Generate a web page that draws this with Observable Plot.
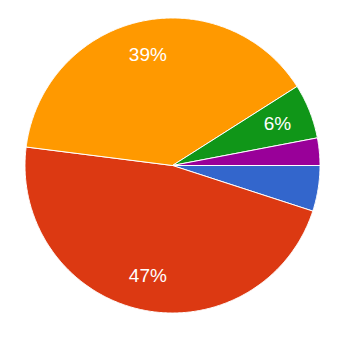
<!DOCTYPE html>
<html><head><meta charset="utf-8">
<script src="https://cdn.jsdelivr.net/npm/d3@7"></script>
<script src="https://cdn.jsdelivr.net/npm/@observablehq/plot@0.6"></script>
<style>body{margin:0;background:#fff}</style>
</head><body><div id="chart"></div>
<script>
const categories = ["Option 1", "Option 2", "Option 3", "Option 4", "Option 5"];
const values = [5, 47, 39, 6, 3];
const colors = ["#3366cc", "#dc3912", "#ff9900", "#109618", "#990099"];
const startAngle = 90; // degrees clockwise from 12 o'clock
const labelThreshold = 0.055;

const total = d3.sum(values);
const slices = [];
let acc = startAngle;
categories.forEach((c, i) => {
  const span = values[i] / total * 360;
  slices.push({cat: c, a0: acc, a1: acc + span, p: values[i] / total});
  acc += span;
});

const rad = a => a * Math.PI / 180;
const pts = [];
for (const s of slices) {
  pts.push({cat: s.cat, x: 0, y: 0});
  for (let a = s.a0; a < s.a1; a += 0.5) pts.push({cat: s.cat, x: Math.sin(rad(a)), y: -Math.cos(rad(a))});
  pts.push({cat: s.cat, x: Math.sin(rad(s.a1)), y: -Math.cos(rad(s.a1))});
  pts.push({cat: s.cat, x: 0, y: 0});
}

const labelR = 0.765;
const labels = slices.filter(s => s.p >= labelThreshold).map(s => {
  const m = rad((s.a0 + s.a1) / 2);
  return {x: labelR * Math.sin(m), y: -labelR * Math.cos(m), text: Math.round(s.p * 100) + "%"};
});

const cx = 172, cy = 165, R = 147.5;
const chart = Plot.plot({
  width: 347,
  height: 338,
  margin: 0,
  x: {domain: [-1, 1], range: [cx - R, cx + R], axis: null},
  y: {domain: [-1, 1], range: [cy - R, cy + R], axis: null},
  color: {domain: categories, range: colors},
  style: {background: "#fff"},
  marks: [
    Plot.line(pts, {x: "x", y: "y", z: "cat", fill: "cat", stroke: "#fff", strokeWidth: 1, strokeLinejoin: "round"}),
    Plot.text(labels, {x: "x", y: "y", text: "text", fill: "#fff", fontSize: 19, fontFamily: "Arial, 'Liberation Sans', sans-serif", lineAnchor: "middle", textAnchor: "middle"})
  ]
});
document.getElementById("chart").appendChild(chart);
</script>
</body></html>
